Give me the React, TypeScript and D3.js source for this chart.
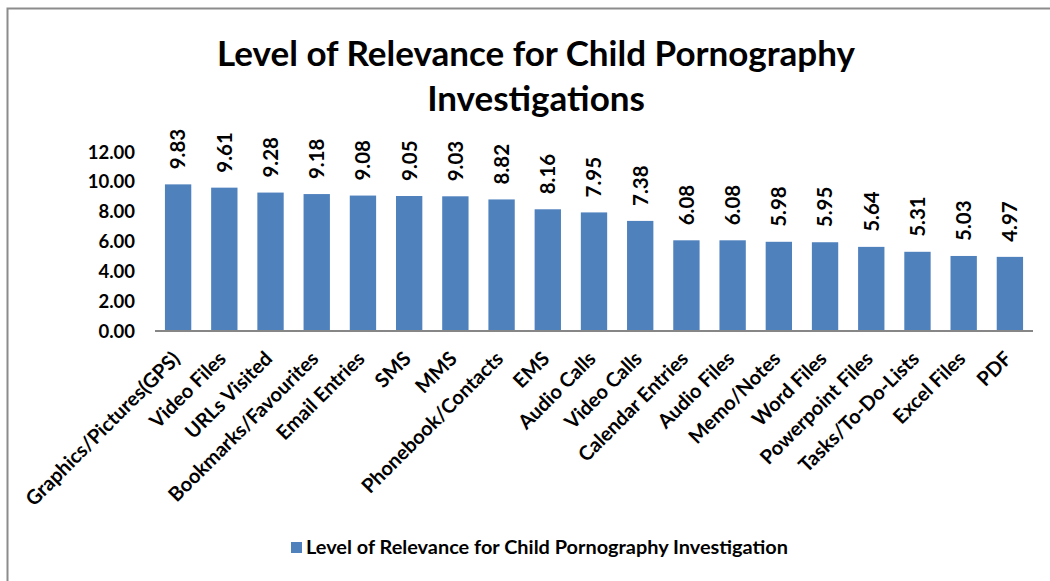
import React, { useEffect, useRef } from "react";
import * as d3 from "d3";

const categories = [
  "Graphics/Pictures(GPS)", "Video Files", "URLs Visited", "Bookmarks/Favourites",
  "Email Entries", "SMS", "MMS", "Phonebook/Contacts", "EMS", "Audio Calls",
  "Video Calls", "Calendar Entries", "Audio Files", "Memo/Notes", "Word Files",
  "Powerpoint Files", "Tasks/To-Do-Lists", "Excel Files", "PDF",
];
const values = [9.83, 9.61, 9.28, 9.18, 9.08, 9.05, 9.03, 8.82, 8.16, 7.95, 7.38, 6.08, 6.08, 5.98, 5.95, 5.64, 5.31, 5.03, 4.97];
const yTicks = [0, 2, 4, 6, 8, 10, 12];
const titleLines = ["Level of Relevance for Child Pornography", "Investigations"];
const seriesName = "Level of Relevance for Child Pornography Investigation";

const W = 1050, H = 581;
const FONT = "Lato, 'Open Sans', sans-serif";
const BAR = "#4f81bd";

export default function App() {
  const ref = useRef<SVGSVGElement>(null);
  useEffect(() => {
    const svg = d3.select(ref.current);
    svg.selectAll("*").remove();

    // frame
    svg.append("rect").attr("x", 0).attr("y", 0).attr("width", W).attr("height", H).attr("fill", "#fff");
    svg.append("path").attr("d", `M7.5,${H} V8.5 H${W}`).attr("fill", "none").attr("stroke", "#8c8c8c").attr("stroke-width", 2);

    const x = d3.scaleBand<string>().domain(categories).range([155, 1033]).paddingInner(0.43).paddingOuter(0.215);
    const y = d3.scaleLinear().domain([0, 12]).range([331, 152]);

    // title
    const t = svg.append("text").attr("text-anchor", "middle").attr("font-family", FONT)
      .attr("font-weight", "bold").attr("font-size", 35).attr("fill", "#000");
    titleLines.forEach((l, i) => t.append("tspan").attr("x", 536).attr("y", 66 + i * 45).text(l));

    // y ticks
    svg.append("g").selectAll("text").data(yTicks).join("text")
      .attr("x", 135).attr("y", d => y(d)).attr("dy", "0.36em").attr("text-anchor", "end")
      .attr("font-family", FONT).attr("font-weight", "bold").attr("font-size", 18.5)
      .text(d => d3.format(".2f")(d));

    // bars
    svg.append("g").selectAll("rect").data(values).join("rect")
      .attr("x", (_, i) => x(categories[i])!).attr("width", x.bandwidth())
      .attr("y", d => y(d)).attr("height", d => y(0) - y(d)).attr("fill", BAR);

    // axis line
    svg.append("line").attr("x1", 155).attr("x2", 1033).attr("y1", 331).attr("y2", 331)
      .attr("stroke", "#868686").attr("stroke-width", 2);

    // value labels
    svg.append("g").selectAll("text").data(values).join("text")
      .attr("transform", (d, i) => `translate(${x(categories[i])! + x.bandwidth() / 2},${y(d) - 15}) rotate(-90)`)
      .attr("dy", "0.36em").attr("text-anchor", "start")
      .attr("font-family", FONT).attr("font-weight", "bold").attr("font-size", 20.5)
      .text(d => d3.format(".2f")(d));

    // category labels
    svg.append("g").selectAll("text").data(categories).join("text")
      .attr("transform", d => `translate(${x(d)! + x.bandwidth() / 2 + 3},${360}) rotate(-45)`)
      .attr("text-anchor", "end")
      .attr("font-family", FONT).attr("font-weight", "bold").attr("font-size", 20)
      .text(d => d);

    // legend
    svg.append("rect").attr("x", 291).attr("y", 542).attr("width", 11).attr("height", 11).attr("fill", BAR);
    svg.append("text").attr("x", 306).attr("y", 554).attr("font-family", FONT).attr("font-weight", "bold")
      .attr("font-size", 19).attr("textLength", 482).attr("lengthAdjust", "spacingAndGlyphs").text(seriesName);
  }, []);
  return <svg ref={ref} width={W} height={H} style={{ position: "absolute", left: 0, top: 0 }} />;
}
